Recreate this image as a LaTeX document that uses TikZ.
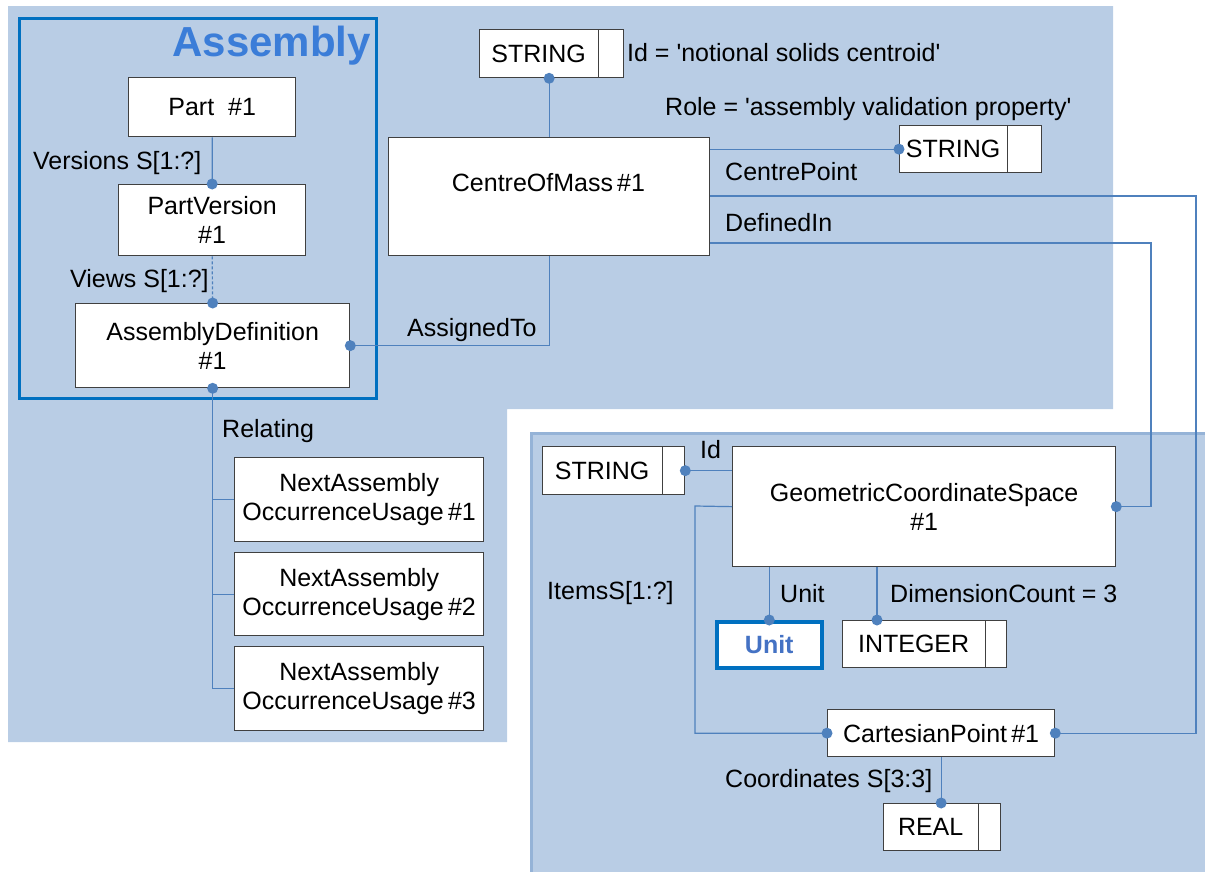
\documentclass[tikz,border=0pt]{standalone}
\usepackage{fontspec}
\setmainfont{Liberation Sans}[Ligatures=TeXOff]
\definecolor{panel}{HTML}{B9CDE5}
\definecolor{panelline}{HTML}{95B3D7}
\definecolor{conncol}{HTML}{4F81BD}
\definecolor{boxgray}{HTML}{404040}
\definecolor{asmcol}{HTML}{0070C0}
\definecolor{asmtext}{HTML}{3B7DD8}
\definecolor{unittext}{HTML}{4472C4}
\begin{document}
\begin{tikzpicture}[x=1bp,y=-1bp,
  every node/.style={font=\fontsize{25bp}{29bp}\selectfont, inner sep=0pt},
  obox/.style={draw=boxgray, line width=1.3bp, fill=white, rectangle, anchor=north west, align=center},
  lbl/.style={anchor=west, text height=18bp, text depth=0pt},
  conn/.style={draw=conncol, line width=1.2bp},
  divider/.style={draw=boxgray, line width=1.3bp}
]
\useasboundingbox (0,0) rectangle (1205,872);
\clip (0,0) rectangle (1205,872);
% panels
\fill[panel] (8,6) -- (1113,6) -- (1113,409) -- (507,409) -- (507,742) -- (8,742) -- cycle;
\filldraw[fill=panel, draw=panelline, line width=3bp] (531.5,433.5) rectangle (1220,890);
% assembly frame
\draw[asmcol, line width=3bp] (19.5,18.5) rectangle (376.5,398.5);
\node[anchor=base east, font=\fontsize{42bp}{46bp}\selectfont\bfseries, text=asmtext] (asmtitle) at (371,56) {Assembly};

% coordinates for routing
\coordinate (c1) at (1196,196);
\coordinate (c2) at (1151,243);
\coordinate (c3) at (695,506);
\coordinate (c5) at (877,620);

% boxes
\node[obox, minimum width=167bp, minimum height=59bp] (part) at (128,77) {Part\ \ \#1};
\node[obox, minimum width=187bp, minimum height=71bp] (pv) at (118,184) {PartVersion\\\#1};
\node[obox, minimum width=274bp, minimum height=84bp] (ad) at (75,303) {AssemblyDefinition\\\#1};
\node[obox, minimum width=249bp, minimum height=84bp] (n1) at (234,457) {NextAssembly\\OccurrenceUsage\,\#1};
\node[obox, minimum width=249bp, minimum height=83bp] (n2) at (234,552) {NextAssembly\\OccurrenceUsage\,\#2};
\node[obox, minimum width=249bp, minimum height=84bp] (n3) at (234,646) {NextAssembly\\OccurrenceUsage\,\#3};
\node[obox, minimum width=321bp, minimum height=118bp] (com) at (388,137) {};
\node (comtxt) at (548.5,182.5) {CentreOfMass\,\#1};
\node[obox, minimum width=144bp, minimum height=48bp] (s1) at (479,29) {STRING\hspace*{26bp}};
\node[obox, minimum width=142bp, minimum height=47bp] (s2) at (899,125) {STRING\hspace*{35bp}};
\node[obox, minimum width=142bp, minimum height=48bp] (s3) at (542,446) {STRING\hspace*{23bp}};
\node[obox, minimum width=383bp, minimum height=120bp] (gcs) at (732,446) {GeometricCoordinateSpace\\\#1};
\node[obox, draw=asmcol, line width=3.5bp, minimum width=105bp, minimum height=46bp, font=\fontsize{25bp}{29bp}\selectfont\bfseries, text=unittext] (unit) at (715,620) {Unit};
\node[obox, minimum width=164bp, minimum height=47bp] (int) at (842,620) {INTEGER\hspace*{22bp}};
\node[obox, minimum width=227bp, minimum height=47bp] (cp) at (827,709) {CartesianPoint\,\#1};
\node[obox, minimum width=117bp, minimum height=47bp] (real) at (883,803) {REAL\hspace*{23bp}};

% dividers
\draw[divider] ([xshift=-26bp]s1.north east) -- ([xshift=-26bp]s1.south east);
\draw[divider] ([xshift=-35bp]s2.north east) -- ([xshift=-35bp]s2.south east);
\draw[divider] ([xshift=-23bp]s3.north east) -- ([xshift=-23bp]s3.south east);
\draw[divider] ([xshift=-22bp]int.north east) -- ([xshift=-22bp]int.south east);
\draw[divider] ([xshift=-23bp]real.north east) -- ([xshift=-23bp]real.south east);

% connectors
\draw[conn] (part.south) -- (pv.north);
\draw[conn, dash pattern=on 3bp off 2bp] (pv.south) -- (ad.north);
\draw[conn] (ad.east) -- (ad.east -| com.south) -- (com.south);
\draw[conn] (com.north) -- (com.north |- s1.south);
\draw[conn] (s2.west -| com.east) -- (s2.west);
\draw[conn] (com.east |- c1) -- (c1) -- (c1 |- cp.east) -- (cp.east);
\draw[conn] (com.east |- c2) -- (c2) -- (c2 |- gcs.east) -- (gcs.east);
\draw[conn] (ad.south) -- (ad.south |- n3.west) -- (n3.west);
\draw[conn] (ad.south |- n1.west) -- (n1.west);
\draw[conn] (ad.south |- n2.west) -- (n2.west);
\draw[conn] (gcs.west |- s3.east) -- (s3.east);
\draw[conn] (gcs.west) -- (c3) -- (c3 |- cp.west) -- (cp.west);
\draw[conn] (unit.north |- gcs.south) -- (unit.north);
\draw[conn] (c5 |- gcs.south) -- (c5);
\draw[conn] (cp.south) -- (cp.south |- real.north);

% dots
\foreach \p in {(pv.north),(ad.north),(ad.east),(ad.south),(com.north |- s1.south),(s2.west),(cp.east),(gcs.east),(s3.east),(cp.west),(unit.north),(c5),(cp.south |- real.north)}
  \fill[conncol] \p circle[radius=5.5bp];

% labels
\node[lbl] (lv) at (33,160) {Versions S[1:?]};
\node[lbl] (lvw) at (70,278) {Views S[1:?]};
\node[lbl] (lrel) at (222,428) {Relating};
\node[lbl] (lass) at (407,327) {AssignedTo};
\node[lbl] (lid1) at (627,52) {Id = 'notional solids centroid'};
\node[lbl] (lrole) at (665,106) {Role = 'assembly validation property'};
\node[lbl] (lcp) at (725,171) {CentrePoint};
\node[lbl] (ldef) at (725,222) {DefinedIn};
\node[lbl] (lid2) at (700,449) {Id};
\node[lbl] (litems) at (547,590) {ItemsS[1:?]};
\node[lbl] (lunit) at (780,593) {Unit};
\node[lbl] (ldim) at (890,593) {DimensionCount = 3};
\node[lbl] (lcoord) at (725,778) {Coordinates S[3:3]};
\end{tikzpicture}
\end{document}
